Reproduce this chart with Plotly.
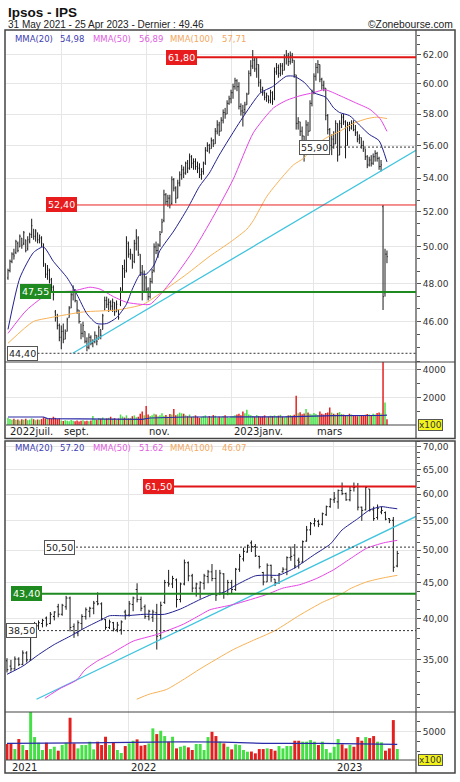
import numpy as np
import pandas as pd
import plotly.graph_objects as go

# ─────────────────────────────────────────────
# Données (Ipsos - IPS)
# ─────────────────────────────────────────────

# séances quotidiennes : 26 juil. 2022 -> 25 avr. 2023 (Euronext, jours fériés exclus)
DAILY_START, DAILY_END = "2022-07-26", "2023-04-25"
HOLIDAYS = ["2022-12-26", "2023-04-07", "2023-04-10"]

D_OPEN = [
    48.3, 48.7, 49.2, 49.6, 49.7, 50.2, 50.0, 50.5, 50.2, 50.4,
    49.9, 50.3, 50.7, 51.0, 50.6, 50.8, 50.4, 50.5, 50.1, 49.0,
    48.5, 48.7, 48.2, 47.8, 46.5, 46.2, 45.8, 45.2, 45.5, 45.1,
    45.5, 46.2, 46.7, 47.4, 47.6, 47.1, 46.6, 46.0, 45.4, 45.5,
    45.0, 44.7, 45.2, 44.9, 45.0, 45.3, 45.1, 45.6, 45.6, 46.6,
    47.1, 46.9, 47.0, 46.8, 47.0, 46.5, 46.6, 46.9, 47.7, 48.8,
    48.7, 50.2, 49.6, 49.6, 49.2, 50.2, 50.5, 49.6, 48.6, 47.6,
    48.3, 47.7, 47.3, 48.1, 48.7, 50.0, 49.8, 50.1, 50.8, 51.5,
    53.0, 52.6, 52.8, 52.5, 53.9, 53.4, 52.8, 53.7, 54.2, 54.5,
    54.3, 54.9, 54.6, 55.3, 54.9, 55.0, 54.7, 54.6, 54.2, 54.4,
    54.9, 55.7, 56.0, 55.8, 56.3, 56.1, 56.9, 57.3, 56.9, 57.6,
    58.1, 58.0, 58.7, 59.0, 59.4, 59.8, 60.2, 59.8, 58.5, 58.2,
    58.3, 58.6, 59.3, 60.7, 61.2, 61.6, 61.0, 61.3, 60.1, 59.6,
    59.4, 59.1, 59.2, 58.9, 59.4, 59.0, 60.8, 61.1, 60.7, 61.2,
    60.9, 61.8, 61.9, 61.5, 61.9, 61.6, 60.6, 57.4, 57.5, 56.9,
    56.6, 55.5, 57.3, 56.9, 58.7, 59.4, 60.5, 61.1, 61.3, 60.3,
    59.9, 59.7, 57.9, 57.0, 56.0, 56.4, 56.1, 57.4, 55.4, 57.4,
    57.8, 57.5, 56.0, 57.3, 57.1, 57.4, 57.0, 56.8, 56.4, 56.5,
    56.0, 55.8, 55.3, 54.8, 55.1, 54.9, 55.3, 55.5, 55.2, 54.7,
    52.3, 47.5, 49.6,
]
D_HIGH = [
    48.8, 49.3, 49.7, 49.9, 50.4, 50.3, 50.7, 50.5, 50.9, 50.4,
    50.6, 50.8, 51.6, 51.0, 51.0, 50.8, 50.7, 50.6, 50.2, 49.1,
    49.0, 48.8, 48.3, 47.9, 46.6, 46.4, 45.9, 45.8, 45.9, 45.6,
    46.2, 46.8, 47.6, 47.9, 47.7, 47.1, 46.6, 45.9, 46.0, 45.5,
    45.2, 45.4, 45.3, 45.1, 45.5, 45.3, 45.8, 45.6, 46.4, 47.3,
    47.3, 47.2, 47.1, 47.2, 47.0, 47.1, 46.6, 47.8, 49.0, 49.3,
    50.6, 50.3, 49.9, 49.6, 50.4, 51.0, 50.6, 49.6, 49.0, 48.7,
    48.4, 47.8, 48.3, 48.8, 50.2, 50.3, 50.2, 50.9, 51.6, 53.3,
    53.1, 53.0, 53.0, 54.1, 54.0, 53.5, 53.9, 54.4, 54.8, 54.7,
    55.0, 55.1, 55.5, 55.4, 55.2, 55.2, 55.0, 54.9, 54.6, 55.0,
    55.9, 56.2, 56.1, 56.5, 56.4, 57.1, 57.6, 57.5, 57.8, 58.3,
    58.4, 58.9, 59.2, 59.6, 60.0, 60.4, 60.3, 60.1, 58.7, 58.6,
    58.8, 59.4, 60.9, 61.6, 62.3, 61.8, 61.8, 61.3, 60.3, 59.8,
    59.5, 59.4, 59.2, 59.6, 59.5, 61.1, 61.4, 61.3, 61.4, 61.4,
    62.0, 62.3, 62.1, 62.2, 62.1, 61.6, 60.6, 57.8, 57.5, 57.2,
    56.6, 57.6, 57.5, 58.9, 59.6, 60.7, 61.4, 61.6, 61.3, 60.4,
    60.2, 59.7, 58.0, 57.1, 56.7, 56.9, 57.6, 57.4, 57.6, 58.0,
    58.0, 57.6, 57.5, 57.5, 57.6, 57.6, 57.3, 56.9, 56.7, 56.5,
    56.3, 55.8, 55.4, 55.3, 55.4, 55.5, 55.7, 55.6, 55.3, 55.1,
    52.4, 49.9, 49.8,
]
D_LOW = [
    48.2, 48.6, 49.1, 49.3, 49.6, 49.7, 50.0, 49.9, 50.1, 49.7,
    49.8, 50.2, 50.5, 50.4, 50.3, 50.2, 50.2, 50.0, 48.9, 48.3,
    48.2, 48.0, 47.6, 47.1, 46.0, 45.6, 45.0, 44.6, 44.9, 45.1,
    45.5, 46.2, 46.7, 47.1, 47.0, 46.4, 45.9, 45.1, 45.2, 44.9,
    44.5, 44.6, 44.8, 44.7, 44.9, 44.8, 45.1, 45.1, 45.6, 46.6,
    46.7, 46.5, 46.6, 46.5, 46.3, 46.5, 46.1, 46.8, 47.6, 48.3,
    48.6, 49.4, 49.3, 48.8, 49.1, 49.8, 49.5, 48.4, 47.1, 47.6,
    47.5, 47.1, 47.2, 48.0, 48.6, 49.6, 49.4, 50.0, 50.8, 51.4,
    52.4, 52.3, 52.2, 52.4, 53.2, 52.5, 52.8, 53.5, 53.9, 54.0,
    54.2, 54.3, 54.5, 54.6, 54.5, 54.5, 54.3, 54.0, 53.9, 54.2,
    54.8, 55.6, 55.5, 55.8, 55.9, 56.1, 56.7, 56.6, 56.9, 57.4,
    57.7, 58.0, 58.6, 58.7, 59.0, 59.6, 59.5, 58.3, 57.9, 57.2,
    58.0, 58.6, 59.3, 60.5, 61.0, 60.8, 60.4, 59.8, 59.4, 59.2,
    58.9, 58.8, 58.7, 58.7, 58.6, 58.9, 60.6, 60.4, 60.5, 60.6,
    60.9, 61.3, 61.2, 61.3, 61.4, 60.4, 57.0, 57.0, 56.6, 56.3,
    55.0, 55.5, 56.6, 56.9, 58.5, 59.3, 60.2, 60.7, 60.1, 59.6,
    59.5, 57.6, 56.7, 55.7, 55.4, 55.8, 56.1, 55.0, 55.4, 57.1,
    57.3, 55.2, 56.0, 56.9, 57.0, 56.9, 56.6, 56.2, 56.1, 55.8,
    55.6, 55.1, 54.6, 54.7, 54.7, 54.8, 55.0, 55.0, 54.5, 54.4,
    46.6, 47.3, 49.1,
]
D_CLOSE = [
    48.7, 49.2, 49.6, 49.5, 50.3, 49.8, 50.6, 50.1, 50.8, 49.8,
    50.4, 50.7, 51.2, 50.6, 50.9, 50.4, 50.5, 50.2, 49.1, 48.5,
    48.8, 48.2, 47.8, 47.4, 46.2, 45.8, 45.2, 45.5, 45.1, 45.4,
    46.1, 46.7, 47.4, 47.6, 47.1, 46.6, 46.0, 45.4, 45.8, 45.0,
    44.7, 45.2, 44.9, 45.0, 45.3, 45.0, 45.7, 45.3, 46.3, 47.1,
    46.9, 47.0, 46.8, 47.0, 46.5, 46.9, 46.2, 47.6, 48.8, 48.6,
    50.3, 49.6, 49.7, 49.0, 50.2, 50.6, 49.7, 48.6, 47.5, 48.4,
    47.7, 47.3, 48.1, 48.6, 50.0, 49.8, 50.1, 50.7, 51.4, 53.0,
    52.6, 52.8, 52.4, 53.9, 53.4, 52.8, 53.7, 54.2, 54.5, 54.3,
    54.9, 54.6, 55.3, 54.9, 55.0, 54.7, 54.6, 54.2, 54.4, 54.9,
    55.7, 56.0, 55.8, 56.3, 56.1, 56.9, 57.3, 56.9, 57.6, 58.1,
    58.0, 58.7, 59.0, 59.4, 59.8, 60.2, 59.8, 58.5, 58.2, 58.1,
    58.6, 59.3, 60.7, 61.2, 61.6, 61.0, 61.3, 60.1, 59.6, 59.4,
    59.1, 59.2, 58.9, 59.4, 58.8, 60.8, 61.1, 60.7, 61.2, 60.9,
    61.8, 61.9, 61.5, 61.9, 61.6, 60.6, 57.4, 57.5, 56.9, 56.6,
    55.5, 57.3, 56.9, 58.7, 59.4, 60.5, 61.1, 61.3, 60.3, 59.9,
    59.7, 57.9, 57.0, 56.0, 56.4, 56.1, 57.4, 55.4, 57.4, 57.8,
    57.5, 56.0, 57.3, 57.1, 57.4, 57.0, 56.8, 56.4, 56.5, 56.0,
    55.8, 55.3, 54.8, 55.1, 54.9, 55.3, 55.5, 55.2, 54.7, 54.8,
    47.3, 49.6, 49.46,
]
# volumes quotidiens (x100)
D_VOLUME = [
    520, 430, 380, 450, 360, 400, 330, 420, 380, 460,
    350, 390, 480, 420, 350, 400, 380, 430, 560, 480,
    420, 510, 470, 600, 520, 430, 480, 330, 290, 350,
    310, 280, 360, 300, 270, 320, 260, 300, 350, 280,
    310, 270, 330, 650, 420, 380, 500, 460, 550, 430,
    480, 520, 600, 450, 500, 380, 470, 760, 620, 540,
    700, 480, 520, 640, 700, 560, 600, 820, 990, 700,
    1380, 760, 650, 700, 820, 760, 640, 700, 850, 680,
    720, 620, 800, 760, 1160, 700, 780, 900, 850, 820,
    700, 640, 760, 580, 620, 700, 600, 520, 580, 640,
    700, 560, 650, 600, 720, 680, 540, 600, 560, 640,
    700, 580, 520, 620, 640, 700, 760, 820, 700, 990,
    860, 1100, 760, 700, 650, 600, 720, 640, 580, 620,
    700, 560, 600, 680, 640, 700, 620, 680, 740, 600,
    560, 640, 700, 720, 680, 740, 2120, 860, 920, 780,
    840, 1160, 900, 820, 760, 880, 800, 720, 980, 820,
    760, 880, 900, 1280, 900, 820, 760, 880, 940, 800,
    760, 720, 700, 820, 760, 700, 680, 640, 720, 700,
    660, 740, 800, 760, 700, 820, 760, 880, 900, 840,
    4600, 1640, 420,
]

# moyennes mobiles quotidiennes (séance, valeur)
D_MA20_X = [0, 6, 13, 18, 23, 30, 35, 40, 45, 50, 55, 60, 63, 67, 70, 74, 77, 84, 91, 97,
            102, 107, 118, 128, 134, 141, 145, 150, 155, 161, 165, 168, 173, 178, 183, 188, 192]
D_MA20_Y = [45.6, 48.3, 49.7, 50.0, 49.2, 48.3, 47.4, 46.4, 45.9, 45.9, 46.2, 46.9, 47.7, 48.5,
            48.5, 49.0, 49.8, 50.9, 52.2, 53.5, 54.3, 55.4, 57.6, 59.4, 59.8, 60.5, 60.5, 60.1,
            59.4, 59.1, 58.4, 58.1, 57.9, 57.3, 56.7, 56.3, 54.98]
D_MA50_X = [0, 9.5, 21.3, 33.1, 41.6, 46.6, 53.4, 60.1, 66.9, 72, 78.7, 85.5, 93.9, 102.4,
            114, 124.3, 134.5, 141.2, 148, 154.7, 160.6, 168.2, 176.7, 183.4, 188.5, 192]
D_MA50_Y = [45.4, 46.6, 47.5, 47.6, 47.8, 47.7, 47.3, 47.0, 46.9, 46.9, 47.6, 48.5, 49.8, 51.4,
            53.9, 56.8, 58.4, 58.9, 59.2, 59.4, 59.6, 59.2, 58.7, 58.3, 57.7, 56.89]
D_MA100_X = [0, 12.8, 21.3, 38.2, 55.1, 68.6, 78.7, 90.5, 102.4, 113, 121, 124.3, 131.1,
             137.8, 144.6, 149.7, 154.7, 161.5, 168.2, 175, 181.8, 186.8, 192]
D_MA100_Y = [44.9, 46.0, 46.2, 46.5, 46.6, 46.9, 47.6, 48.5, 49.5, 50.3, 51.0, 51.5, 52.9,
             53.9, 54.8, 55.2, 55.9, 56.5, 56.9, 57.4, 57.7, 57.8, 57.71]
D_VOLMA_X = [0, 18, 20, 40, 42, 68, 72, 90, 140, 146, 165, 189, 192]
D_VOLMA_Y = [580, 580, 460, 460, 415, 415, 510, 580, 585, 610, 680, 690, 720]
D_TREND_X = [32.8, 206.7]
D_TREND_Y = [44.4, 55.7]

# séances hebdomadaires : semaine du 31 mai 2021 -> semaine du 24 avr. 2023
WEEK_START = "2021-05-31"
W_OPEN = [
    34.9, 34.3, 34.0, 35.1, 34.5, 35.8, 35.0, 38.2, 39.1, 39.4,
    40.1, 39.4, 40.3, 41.6, 40.6, 41.6, 42.8, 39.0, 38.2, 39.4,
    40.3, 41.0, 41.4, 42.3, 42.0, 39.9, 38.9, 39.5, 38.6, 38.6,
    40.9, 40.5, 41.9, 44.0, 42.6, 41.6, 40.3, 40.2, 40.8, 37.9,
    42.2, 45.0, 44.8, 45.4, 42.6, 44.8, 48.0, 46.0, 44.2, 44.2,
    44.9, 45.9, 46.6, 45.6, 43.4, 46.3, 43.4, 45.0, 44.0, 47.0,
    48.6, 49.7, 51.2, 50.6, 49.0, 46.5, 45.1, 47.6, 45.5, 45.0,
    46.6, 47.0, 48.8, 49.2, 48.4, 48.1, 51.5, 53.4, 54.5, 54.9,
    54.4, 56.1, 57.6, 58.9, 58.5, 60.7, 60.1, 58.9, 61.4, 61.5,
    57.5, 57.0, 61.0, 57.0, 55.6, 56.6, 56.5, 55.4, 55.1, 47.5,
]
W_HIGH = [
    35.2, 35.0, 35.4, 35.3, 36.1, 36.0, 38.4, 39.6, 39.8, 40.0,
    40.3, 40.9, 41.0, 42.0, 42.0, 43.1, 43.0, 39.4, 39.8, 40.6,
    41.5, 41.6, 42.4, 43.6, 42.2, 40.0, 39.9, 39.6, 39.6, 39.8,
    41.2, 42.4, 43.0, 44.9, 43.0, 41.9, 41.2, 41.2, 42.0, 42.3,
    45.4, 46.9, 46.0, 45.6, 45.0, 48.5, 48.2, 46.3, 45.0, 45.2,
    46.3, 46.9, 47.8, 46.9, 46.9, 46.4, 45.4, 45.4, 47.2, 49.4,
    50.4, 50.9, 51.6, 51.0, 49.1, 46.6, 47.9, 47.7, 45.5, 46.4,
    47.3, 49.0, 50.6, 51.0, 48.8, 51.6, 54.1, 54.8, 55.5, 55.2,
    56.5, 57.8, 59.2, 60.4, 60.9, 62.3, 60.3, 61.4, 62.3, 62.2,
    57.6, 61.6, 61.0, 57.6, 58.0, 57.6, 56.7, 55.5, 55.7, 49.9,
]
W_LOW = [
    33.6, 33.7, 33.9, 34.3, 34.4, 34.7, 34.9, 37.8, 38.6, 38.9,
    39.0, 39.3, 39.8, 40.2, 40.4, 41.2, 38.4, 37.6, 37.8, 38.6,
    39.9, 40.2, 40.6, 41.8, 39.8, 38.6, 38.7, 38.4, 38.3, 38.0,
    39.9, 40.3, 41.0, 42.2, 41.0, 40.0, 39.8, 39.6, 36.2, 37.4,
    42.0, 44.4, 44.2, 41.5, 42.2, 44.6, 45.2, 43.6, 43.0, 42.7,
    44.0, 44.9, 45.2, 42.4, 43.2, 42.7, 43.2, 43.4, 43.8, 46.6,
    48.2, 49.6, 49.7, 48.9, 47.1, 44.6, 45.1, 45.1, 44.5, 44.8,
    46.5, 46.1, 48.3, 47.1, 47.1, 48.0, 51.4, 52.5, 54.0, 53.9,
    54.2, 55.9, 57.4, 58.3, 57.2, 59.8, 58.7, 58.6, 60.5, 56.9,
    55.0, 56.9, 56.7, 55.0, 55.2, 56.2, 55.1, 54.6, 46.6, 47.3,
]
W_CLOSE = [
    33.9, 34.0, 35.1, 34.5, 35.8, 35.0, 38.2, 39.3, 39.5, 39.8,
    39.3, 40.6, 40.9, 40.6, 41.8, 42.8, 38.9, 38.2, 39.5, 40.3,
    41.2, 41.4, 42.1, 42.0, 40.0, 38.9, 39.6, 38.7, 39.2, 39.6,
    40.5, 42.0, 42.8, 42.6, 41.4, 40.3, 41.0, 40.9, 37.8, 41.8,
    45.0, 44.8, 45.6, 42.6, 44.8, 48.0, 46.0, 44.2, 44.8, 45.0,
    46.0, 46.6, 45.6, 43.2, 46.4, 43.4, 45.0, 44.0, 47.0, 49.0,
    49.8, 50.8, 50.6, 49.1, 47.4, 45.1, 47.6, 45.8, 45.0, 46.3,
    47.0, 48.8, 49.0, 47.5, 48.1, 51.4, 53.4, 54.5, 55.0, 54.4,
    56.3, 57.6, 59.0, 59.2, 60.7, 60.1, 58.9, 60.7, 61.3, 57.5,
    56.9, 61.3, 57.0, 55.4, 57.3, 56.9, 55.3, 55.1, 47.3, 49.46,
]
W_VOLUME = [
    2830, 2830, 1940, 3710, 2650, 1770, 8500, 4060, 3060, 1770,
    3060, 1940, 2350, 1650, 2650, 3060, 7480, 2940, 2060, 2650,
    2650, 3240, 1880, 3240, 2650, 4120, 2650, 3060, 1770, 1240,
    2470, 2940, 3410, 3650, 2530, 2650, 2940, 5600, 4590, 5180,
    4240, 3240, 4120, 2060, 2350, 2530, 2240, 1770, 2830, 2830,
    1770, 4060, 5000, 4240, 3240, 2940, 2350, 1880, 2770, 2650,
    1770, 1470, 1500, 1180, 1940, 1940, 2060, 1940, 1650, 2470,
    2060, 2470, 2470, 3410, 3410, 3240, 3240, 3530, 3240, 2650,
    3240, 1940, 1300, 2350, 3710, 2770, 2060, 2650, 2350, 4060,
    3410, 4060, 3880, 4240, 3240, 3120, 1650, 2060, 7070, 1940,
]
W_MA20_X = [0, 4, 8, 12, 16, 20, 24, 26, 30, 35, 40, 44, 49, 52, 55, 58, 63, 66, 69, 73,
            78, 82, 85, 89, 92, 95, 97, 99]
W_MA20_Y = [33.4, 34.3, 35.6, 36.8, 37.8, 38.9, 39.9, 40.4, 40.4, 40.6, 40.6, 41.3, 42.6,
            43.3, 43.6, 44.6, 46.0, 46.1, 46.1, 47.2, 49.3, 51.0, 53.4, 55.4, 57.0, 57.6,
            57.4, 57.2]
W_MA50_X = [9.6, 13.5, 17.7, 19.8, 23, 26, 32, 37.9, 44.7, 49, 51.5, 57.4, 65.9, 70, 74.3,
            78.5, 82.8, 87, 91.2, 95.5, 99]
W_MA50_Y = [30.9, 31.9, 32.8, 33.9, 34.9, 35.6, 37.2, 38.0, 39.3, 40.5, 41.2, 41.9, 43.3,
            44.2, 44.7, 45.6, 46.9, 48.6, 50.3, 51.2, 51.62]
W_MA100_X = [32.9, 36, 40.5, 45, 49, 57.4, 62, 68, 74.3, 80, 85, 87, 91.2, 95.5, 99]
W_MA100_Y = [30.8, 31.3, 31.8, 32.9, 34.0, 36.2, 37.2, 38.5, 40.5, 42.2, 43.4, 44.1, 45.1,
             45.7, 46.07]
W_VOLMA_X = [0, 10, 20, 37, 45, 55, 65, 80, 90, 99]
W_VOLMA_Y = [2940, 2940, 3050, 3150, 3230, 3150, 2950, 2950, 2850, 2770]
W_TREND_X = [7.5, 103.75]
W_TREND_Y = [30.8, 55.8]

# niveaux horizontaux (valeur, libellé, style)
D_LEVELS = [(61.80, "61,80", "res"), (52.40, "52,40", "res_thin"), (47.55, "47,55", "sup"),
            (55.90, "55,90", "dash"), (44.40, "44,40", "dash")]
W_LEVELS = [(61.50, "61,50", "res"), (43.40, "43,40", "sup"),
            (50.50, "50,50", "dash"), (38.50, "38,50", "dash")]

D_LEGEND = [("MMA(20)", "54,98"), ("MMA(50)", "56,89"), ("MMA(100)", "57,71")]
W_LEGEND = [("MMA(20)", "57.20"), ("MMA(50)", "51.62"), ("MMA(100)", "46.07")]

D_MONTHS = ["2022-09", "2022-11", "2023-01", "2023-03"]
D_MONTH_LABELS = ["sept.", "nov.", "2023janv.", "mars"]
W_YEARS = [2022, 2023]

# ─────────────────────────────────────────────
# Mise en page
# ─────────────────────────────────────────────
W, H = 460, 782
FONT = "DejaVu Sans"
RED, GREEN = "#e3201f", "#45e045"
C_MA20, C_MA50, C_MA100 = "#20208f", "#e545e5", "#f7b256"
C_LEG20, C_LEG50, C_LEG100 = "#4040b0", "#e060e0", "#f2a860"
C_TREND = "#40c4de"
GRID = "#e6e6e6"


def fx(p):
    return p / W


def fy(p):
    return 1 - p / H


d_dates = pd.bdate_range(DAILY_START, DAILY_END)
d_dates = d_dates[~d_dates.isin(pd.to_datetime(HOLIDAYS))]
d_idx = list(range(len(d_dates)))
w_idx = list(range(len(W_CLOSE)))

d_month_pos = [int(np.argmax(d_dates.strftime("%Y-%m") == m)) for m in D_MONTHS]
w_year_pos = [(pd.Timestamp(f"{y}-01-01") - pd.Timestamp(WEEK_START)).days / 7 for y in W_YEARS]

fig = go.Figure()

bar_line = dict(color="#1a1a1a", width=1)


def ohlc(o, h, l, c, xs, xa, ya, tw):
    return go.Ohlc(x=xs, open=o, high=h, low=l, close=c, xaxis=xa, yaxis=ya,
                   increasing=dict(line=bar_line), decreasing=dict(line=bar_line),
                   tickwidth=tw, hoverinfo="skip", showlegend=False)


def line(xs, ys, color, xa, ya, width=1.0, smooth=True):
    return go.Scatter(x=xs, y=ys, mode="lines", xaxis=xa, yaxis=ya,
                      line=dict(color=color, width=width,
                                shape="spline" if smooth else "linear", smoothing=0.6),
                      hoverinfo="skip", showlegend=False)


# graphique quotidien
fig.add_trace(line(D_TREND_X, D_TREND_Y, C_TREND, "x", "y", 1.3, False))
fig.add_trace(line(D_MA100_X, D_MA100_Y, C_MA100, "x", "y"))
fig.add_trace(line(D_MA50_X, D_MA50_Y, C_MA50, "x", "y"))
fig.add_trace(line(D_MA20_X, D_MA20_Y, C_MA20, "x", "y"))
fig.add_trace(ohlc(D_OPEN, D_HIGH, D_LOW, D_CLOSE, d_idx, "x", "y", 0.35))
d_col = [GREEN if c >= o else RED for o, c in zip(D_OPEN, D_CLOSE)]
fig.add_trace(go.Bar(x=d_idx, y=D_VOLUME, marker=dict(color=d_col, line=dict(width=0)),
                     xaxis="x2", yaxis="y2", hoverinfo="skip", showlegend=False))
fig.add_trace(line(D_VOLMA_X, D_VOLMA_Y, "#2a2aa8", "x2", "y2", 1.2, False))

# graphique hebdomadaire
fig.add_trace(line(W_TREND_X, W_TREND_Y, C_TREND, "x3", "y3", 1.3, False))
fig.add_trace(line(W_MA100_X, W_MA100_Y, C_MA100, "x3", "y3"))
fig.add_trace(line(W_MA50_X, W_MA50_Y, C_MA50, "x3", "y3"))
fig.add_trace(line(W_MA20_X, W_MA20_Y, C_MA20, "x3", "y3"))
fig.add_trace(ohlc(W_OPEN, W_HIGH, W_LOW, W_CLOSE, w_idx, "x3", "y3", 0.35))
w_col = [GREEN if c >= o else RED for o, c in zip(W_OPEN, W_CLOSE)]
fig.add_trace(go.Bar(x=w_idx, y=W_VOLUME, marker=dict(color=w_col, line=dict(width=0)),
                     xaxis="x4", yaxis="y4", hoverinfo="skip", showlegend=False))
fig.add_trace(line(W_VOLMA_X, W_VOLMA_Y, "#2a2aa8", "x4", "y4", 1.2, False))

# axes
x_dom = [fx(6), fx(416)]
tickfont = dict(family=FONT, size=9, color="#333")


def xaxis(rng, ticks, anchor):
    return dict(domain=x_dom, range=rng, anchor=anchor, tickvals=ticks, showticklabels=False,
                showgrid=True, gridcolor=GRID, gridwidth=1, zeroline=False, showline=False,
                ticks="", rangeslider=dict(visible=False), fixedrange=True)


def yaxis(dom, rng, anchor, vals, texts, minor_vals, log=False):
    return dict(domain=dom, range=rng, anchor=anchor, side="right",
                type="log" if log else "linear", tickvals=vals, ticktext=texts,
                ticks="outside", ticklen=4, tickwidth=1, tickcolor="#555",
                tickfont=tickfont, showgrid=True, gridcolor=GRID, zeroline=False,
                showline=False, fixedrange=True,
                minor=dict(tickvals=minor_vals, ticks="outside", ticklen=3,
                           tickcolor="#555", showgrid=False))


top_vals = list(range(46, 63, 2))
top_minor = [44 + k * 2 / 3 for k in range(30)]
bot_vals = list(range(35, 71, 5))
bot_minor = [30 + k * 1.25 for k in range(34)]

fig.update_layout(
    xaxis=xaxis([-1.01, 206.7], d_month_pos, "y"),
    yaxis=yaxis([fy(362), fy(30)], [np.log10(43.97), np.log10(63.71)], "x",
                top_vals, [f"{v:.2f}" for v in top_vals], top_minor, log=True),
    xaxis2=xaxis([-1.01, 206.7], d_month_pos, "y2"),
    yaxis2=yaxis([fy(425), fy(362)], [0, 4580], "x2", [2000, 4000], ["2000", "4000"],
                 [1000, 3000]),
    xaxis3=xaxis([-0.25, 103.75], w_year_pos, "y3"),
    yaxis3=yaxis([fy(712), fy(441)], [np.log10(29.55), np.log10(71.3)], "x3",
                 bot_vals, [f"{v:.2f}".replace(".", ",") for v in bot_vals], bot_minor,
                 log=True),
    xaxis4=xaxis([-0.25, 103.75], w_year_pos, "y4"),
    yaxis4=yaxis([fy(760), fy(712)], [0, 8500], "x4", [5000], ["5000"], [1500, 3350, 6750]),
)

# cadres et séparateurs
shapes = []
frame = dict(type="rect", xref="paper", yref="paper", line=dict(color="#444", width=1.5),
             fillcolor="rgba(0,0,0,0)", layer="above")
sep = dict(type="line", xref="paper", yref="paper", line=dict(color="#444", width=1.2),
           layer="above")
for top, mid, low, bottom in [(30, 362, 425, 438.5), (441, 712, 760, 773)]:
    shapes.append(dict(frame, x0=fx(5), x1=fx(455), y0=fy(bottom), y1=fy(top)))
    shapes.append(dict(sep, x0=fx(5), x1=fx(455), y0=fy(mid), y1=fy(mid)))
    shapes.append(dict(sep, x0=fx(6), x1=fx(416), y0=fy(low), y1=fy(low)))
    shapes.append(dict(sep, x0=fx(416), x1=fx(416), y0=fy(bottom), y1=fy(top)))

annotations = []

# niveaux et étiquettes
level_style = {
    "res": dict(line=dict(color="#e01515", width=2), bg="#e81c1c", fg="white"),
    "res_thin": dict(line=dict(color="#e82020", width=1), bg="#e81c1c", fg="white"),
    "sup": dict(line=dict(color="#1f8a1f", width=2), bg="#1f8a1f", fg="white"),
    "dash": dict(line=dict(color="#333", width=1, dash="2px,2px"), bg="white", fg="#222"),
}
# position horizontale des étiquettes (px gauche, px droite)
d_label_px = [(166, 194), (46, 75), (20, 49), (299, 328), (6.5, 33.5)]
w_label_px = [(143, 170), (11, 39.5), (43.5, 72), (6, 35)]

for levels, label_px, yref in [(D_LEVELS, d_label_px, "y"), (W_LEVELS, w_label_px, "y3")]:
    for (val, txt, kind), (x_left, x_right) in zip(levels, label_px):
        st = level_style[kind]
        shapes.append(dict(type="line", xref="paper", yref=yref, x0=fx(x_right), x1=fx(416),
                           y0=val, y1=val, line=st["line"], layer="above"))
        annotations.append(dict(
            xref="paper", yref=yref, x=fx(x_left), y=np.log10(val), xanchor="left",
            yanchor="middle", text=txt, showarrow=False,
            font=dict(family=FONT, size=9.5, color=st["fg"]), bgcolor=st["bg"],
            bordercolor="#555" if kind == "dash" else st["bg"], borderwidth=1, borderpad=1))

# légendes des moyennes mobiles
leg_x = [12.7, 58.3, 90.7, 136.7, 168.3, 220]
leg_colors = [C_LEG20, C_LEG50, C_LEG100]
for legend, y_px in [(D_LEGEND, 38.5), (W_LEGEND, 448.3)]:
    for k, (name, val) in enumerate(legend):
        for j, txt in enumerate([name, val]):
            annotations.append(dict(
                xref="paper", yref="paper", x=fx(leg_x[2 * k + j]), y=fy(y_px),
                xanchor="left", yanchor="middle", text=txt, showarrow=False,
                font=dict(family=FONT, size=8.5, color=leg_colors[k])))

# dates
date_font = dict(family=FONT, size=10, color="#222")
annotations.append(dict(xref="paper", yref="paper", x=fx(8), y=fy(431.5), xanchor="left",
                        yanchor="middle", text="2022juil.", showarrow=False, font=date_font))
for pos, txt in zip(d_month_pos, D_MONTH_LABELS):
    annotations.append(dict(xref="x", yref="paper", x=pos, y=fy(431.5), xanchor="left",
                            xshift=1, yanchor="middle", text=txt, showarrow=False,
                            font=date_font))
annotations.append(dict(xref="paper", yref="paper", x=fx(9.5), y=fy(767), xanchor="left",
                        yanchor="middle", text="2021", showarrow=False, font=date_font))
for pos, y in zip(w_year_pos, W_YEARS):
    annotations.append(dict(xref="x3", yref="paper", x=pos, y=fy(767), xanchor="left",
                            xshift=1, yanchor="middle", text=str(y), showarrow=False,
                            font=date_font))

# badges x100
for y_px in [425.3, 760]:
    annotations.append(dict(xref="paper", yref="paper", x=fx(417.5), y=fy(y_px),
                            xanchor="left", yanchor="middle", text="x100", showarrow=False,
                            font=dict(family=FONT, size=9, color="#333"), bgcolor="#f3f31c",
                            bordercolor="#555", borderwidth=1, borderpad=0))

# titres
annotations += [
    dict(xref="paper", yref="paper", x=fx(6), y=fy(12), xanchor="left", yanchor="middle",
         text="<b>Ipsos - IPS</b>", showarrow=False,
         font=dict(family="Liberation Sans", size=13.5, color="#111")),
    dict(xref="paper", yref="paper", x=fx(6), y=fy(24.5), xanchor="left", yanchor="middle",
         text="31 May 2021 - 25 Apr 2023 - Dernier : 49.46", showarrow=False,
         font=dict(family="Liberation Sans", size=10, color="#222")),
    dict(xref="paper", yref="paper", x=fx(455), y=fy(24.5), xanchor="right",
         yanchor="middle", text="©Zonebourse.com", showarrow=False,
         font=dict(family="Liberation Sans", size=10.3, color="#222")),
]

fig.update_layout(
    width=W, height=H, margin=dict(l=0, r=0, t=0, b=0),
    paper_bgcolor="white", plot_bgcolor="white",
    bargap=0.25, showlegend=False,
    shapes=shapes, annotations=annotations,
)

fig.write_html("out.html", config={"displayModeBar": False, "staticPlot": True},
               post_script="document.body.style.margin='0';")
